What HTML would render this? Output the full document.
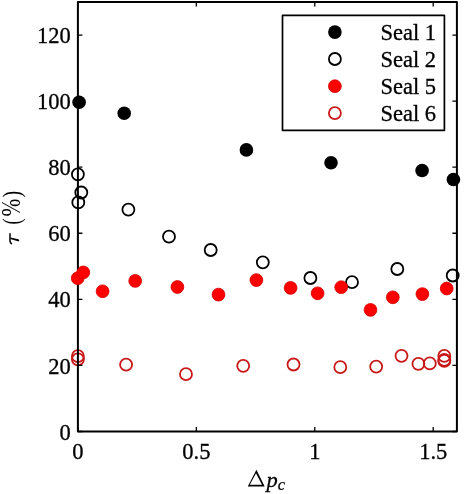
<!DOCTYPE html>
<html><head><meta charset="utf-8"><title>Transmission tau (%) versus Delta p_c</title><style>
html,body{margin:0;padding:0;background:#fff;overflow:hidden;}
svg{display:block;will-change:transform;}
text{font-family:"Liberation Serif",serif;font-size:225px;fill:#000;}
.t{stroke:#000;stroke-width:3px;}
.i{font-style:italic;}
</style></head><body>
<svg width="469" height="494" viewBox="0 0 469 494">
<g fill="none" stroke="#c81818" stroke-width="1.8">
<circle cx="77.9" cy="356.2" r="6.0"/>
<circle cx="77.9" cy="359.3" r="6.0"/>
<circle cx="126.1" cy="364.7" r="6.0"/>
<circle cx="186.0" cy="374.2" r="6.0"/>
<circle cx="243.2" cy="365.8" r="6.0"/>
<circle cx="293.5" cy="364.5" r="6.0"/>
<circle cx="340.3" cy="367.2" r="6.0"/>
<circle cx="376.2" cy="366.6" r="6.0"/>
<circle cx="401.5" cy="355.8" r="6.0"/>
<circle cx="418.4" cy="363.8" r="6.0"/>
<circle cx="429.8" cy="363.4" r="6.0"/>
<circle cx="444.3" cy="355.9" r="6.0"/>
<circle cx="444.3" cy="360.0" r="6.0"/>
<circle cx="444.3" cy="360.9" r="6.0"/>
</g>
<rect x="77.9" y="2.0" width="379" height="429.5" fill="none" stroke="#000" stroke-width="2" stroke-linejoin="round"/>
<path d="M77.9 431.5V427M77.9 2.0V6.5M196.34 431.5V427M196.34 2.0V6.5M314.77 431.5V427M314.77 2.0V6.5M433.21 431.5V427M433.21 2.0V6.5M77.9 431.5H82.4M456.9 431.5H452.4M77.9 365.42H82.4M456.9 365.42H452.4M77.9 299.35H82.4M456.9 299.35H452.4M77.9 233.27H82.4M456.9 233.27H452.4M77.9 167.19H82.4M456.9 167.19H452.4M77.9 101.12H82.4M456.9 101.12H452.4M77.9 35.04H82.4M456.9 35.04H452.4" stroke="#000" stroke-width="1.3" fill="none"/>
<g>
<text class="t" transform="translate(77.9,459.4) scale(.1)" text-anchor="middle">0</text>
<text class="t" transform="translate(196.34,459.4) scale(.1)" text-anchor="middle">0.5</text>
<text class="t" transform="translate(314.77,459.4) scale(.1)" text-anchor="middle">1</text>
<text class="t" transform="translate(433.21,459.4) scale(.1)" text-anchor="middle">1.5</text>
<text class="t" transform="translate(59.41,439.6) scale(.1)">0</text>
<text class="t" transform="translate(48.16,373.52) scale(.1)">20</text>
<text class="t" transform="translate(48.16,307.45) scale(.1)">40</text>
<text class="t" transform="translate(48.16,241.37) scale(.1)">60</text>
<text class="t" transform="translate(48.16,175.29) scale(.1)">80</text>
<text class="t" transform="translate(36.91,109.22) scale(.1)">100</text>
<text class="t" transform="translate(36.91,43.14) scale(.1)">120</text>
</g>
<circle cx="79.1" cy="102.2" r="6.8"/>
<circle cx="124.2" cy="113.2" r="6.8"/>
<circle cx="246.4" cy="149.9" r="6.8"/>
<circle cx="331.0" cy="162.8" r="6.8"/>
<circle cx="422.1" cy="170.5" r="6.8"/>
<circle cx="453.4" cy="179.5" r="6.8"/>
<g fill="none" stroke="#000" stroke-width="1.8">
<circle cx="77.9" cy="174.3" r="6.0"/>
<circle cx="81.3" cy="192.5" r="6.0"/>
<circle cx="78.3" cy="202.4" r="6.0"/>
<circle cx="128.4" cy="209.6" r="6.0"/>
<circle cx="169.0" cy="236.7" r="6.0"/>
<circle cx="210.7" cy="250.0" r="6.0"/>
<circle cx="262.8" cy="262.3" r="6.0"/>
<circle cx="310.4" cy="278.0" r="6.0"/>
<circle cx="352.0" cy="282.2" r="6.0"/>
<circle cx="397.3" cy="269.0" r="6.0"/>
<circle cx="452.7" cy="275.5" r="6.0"/>
</g>
<g fill="#ff0000" stroke="#d40000" stroke-width="0.8">
<circle cx="77.7" cy="278.2" r="6.4"/>
<circle cx="83.3" cy="272.4" r="6.4"/>
<circle cx="102.6" cy="291.3" r="6.4"/>
<circle cx="135.2" cy="280.9" r="6.4"/>
<circle cx="177.4" cy="287.0" r="6.4"/>
<circle cx="218.5" cy="294.6" r="6.4"/>
<circle cx="256.4" cy="280.1" r="6.4"/>
<circle cx="290.6" cy="287.9" r="6.4"/>
<circle cx="317.6" cy="293.3" r="6.4"/>
<circle cx="341.2" cy="287.2" r="6.4"/>
<circle cx="370.5" cy="309.9" r="6.4"/>
<circle cx="392.8" cy="297.3" r="6.4"/>
<circle cx="422.4" cy="294.1" r="6.4"/>
<circle cx="446.7" cy="288.5" r="6.4"/>
</g>
<rect x="282.5" y="15.3" width="161.9" height="115" fill="#fff" stroke="#000" stroke-width="1.7" stroke-linejoin="round"/>
<circle cx="334.9" cy="32.1" r="6.8"/>
<circle cx="334.9" cy="59.0" r="6.0" fill="none" stroke="#000" stroke-width="1.8"/>
<circle cx="334.9" cy="86.2" r="6.4" fill="#ff0000" stroke="#d40000" stroke-width="0.8"/>
<circle cx="334.9" cy="113.1" r="6.0" fill="none" stroke="#c81818" stroke-width="1.8"/>
<text class="t" transform="translate(380.5,39.8) scale(.1)">Seal 1</text>
<text class="t" transform="translate(380.5,66.7) scale(.1)">Seal 2</text>
<text class="t" transform="translate(380.5,93.9) scale(.1)">Seal 5</text>
<text class="t" transform="translate(380.5,120.8) scale(.1)">Seal 6</text>
<g aria-label="Δp_c">
<path d="M256.4 469.8L247.8 486.6L264.7 486.6ZM256.0 473.2L262.0 484.8L249.8 484.8Z"/>
<text class="t i" transform="translate(266.5,486.5) scale(.1,.095)">p</text>
<text class="t i" transform="translate(277.7,489.9) scale(.0733)">c</text>
</g>
<g aria-label="τ (%)">
<path d="M10.0 233.3L10.0 241.2Q10.2 243.1 11.9 244.0" fill="none" stroke="#000" stroke-width="1.5"/>
<path d="M10.3 237.5L18.4 239.3Q19.5 239.8 19.2 240.8Q18.8 241.6 17.9 241.2L10.3 239.0Z"/>
<text class="u" transform="matrix(0.00000,-0.08133,0.11176,0.00000,19.65,224.60)">(</text>
<text class="u" transform="matrix(0.00000,-0.09532,0.12058,0.00000,20.24,216.53)">%</text>
<text class="u" transform="matrix(0.00000,-0.08306,0.11176,0.00000,19.65,197.20)">)</text>
</g>
</svg>
</body></html>
